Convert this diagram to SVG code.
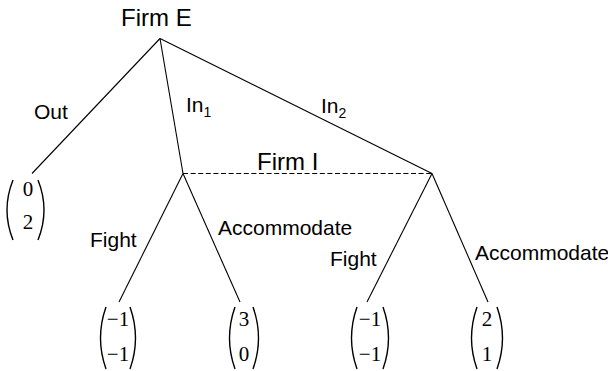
<svg xmlns="http://www.w3.org/2000/svg" width="608" height="371" viewBox="0 0 608 371">
<style>
.lbl{font-family:"Liberation Sans",Arial,sans-serif;font-size:21px;fill:#000}
.firm{font-family:"Liberation Sans",Arial,sans-serif;font-size:24px;fill:#000}
.sub{font-size:14px}
.num{font-family:"Liberation Serif","Times New Roman",serif;font-size:21px;fill:#000}
.edge{stroke:#000;stroke-width:1.1;fill:none}
.dash{stroke:#000;stroke-width:1.2;stroke-dasharray:5 2.6;fill:none}
.par{stroke:#000;stroke-width:1.4;fill:none}
</style>
<rect width="608" height="371" fill="#fff"/>
<g id="connectors">
<line class="edge" x1="160" y1="38.5" x2="32" y2="173.5"/>
<line class="edge" x1="160" y1="38.5" x2="183" y2="173.5"/>
<line class="edge" x1="160" y1="38.5" x2="432" y2="173.5"/>
<line class="dash" x1="183" y1="173.5" x2="432" y2="173.5"/>
<line class="edge" x1="183" y1="173.5" x2="119" y2="302"/>
<line class="edge" x1="183" y1="173.5" x2="240" y2="302"/>
<line class="edge" x1="432" y1="173.5" x2="367" y2="302"/>
<line class="edge" x1="432" y1="173.5" x2="488" y2="302"/>
</g>
<g id="labels">
<text class="lbl" x="34" y="119">Out</text>
<text class="lbl" x="186" y="112">In<tspan class="sub" dy="5">1</tspan></text>
<text class="lbl" x="321" y="113">In<tspan class="sub" dy="5">2</tspan></text>
<text class="lbl" x="90" y="247">Fight</text>
<text class="lbl" x="218" y="235">Accommodate</text>
<text class="lbl" x="330" y="266">Fight</text>
<text class="lbl" x="475" y="260">Accommodate</text>
</g>
<g id="firmE"><text class="firm" x="121" y="26">Firm E</text></g>
<g id="firmI"><text class="firm" x="257" y="170">Firm I</text></g>
<g id="payoff-out">
<path class="par" d="M13,180 Q1,210 13,240"/>
<path class="par" d="M38,180 Q50,210 38,240"/>
<text class="num" x="28" y="196" text-anchor="middle">0</text>
<text class="num" x="28" y="229" text-anchor="middle">2</text>
</g>
<g id="payoff-1">
<path class="par" d="M106,307 Q95,338 106,369"/>
<path class="par" d="M130,307 Q141,338 130,369"/>
<text class="num" x="118" y="326" text-anchor="middle">−1</text>
<text class="num" x="118" y="361" text-anchor="middle">−1</text>
</g>
<g id="payoff-2">
<path class="par" d="M235,307 Q224,338 235,369"/>
<path class="par" d="M253,307 Q264,338 253,369"/>
<text class="num" x="244" y="326" text-anchor="middle">3</text>
<text class="num" x="244" y="361" text-anchor="middle">0</text>
</g>
<g id="payoff-3">
<path class="par" d="M357,307 Q346,338 357,369"/>
<path class="par" d="M383,307 Q394,338 383,369"/>
<text class="num" x="370" y="326" text-anchor="middle">−1</text>
<text class="num" x="370" y="361" text-anchor="middle">−1</text>
</g>
<g id="payoff-4">
<path class="par" d="M477,307 Q466,338 477,369"/>
<path class="par" d="M497,307 Q508,338 497,369"/>
<text class="num" x="487" y="326" text-anchor="middle">2</text>
<text class="num" x="487" y="361" text-anchor="middle">1</text>
</g>
</svg>
